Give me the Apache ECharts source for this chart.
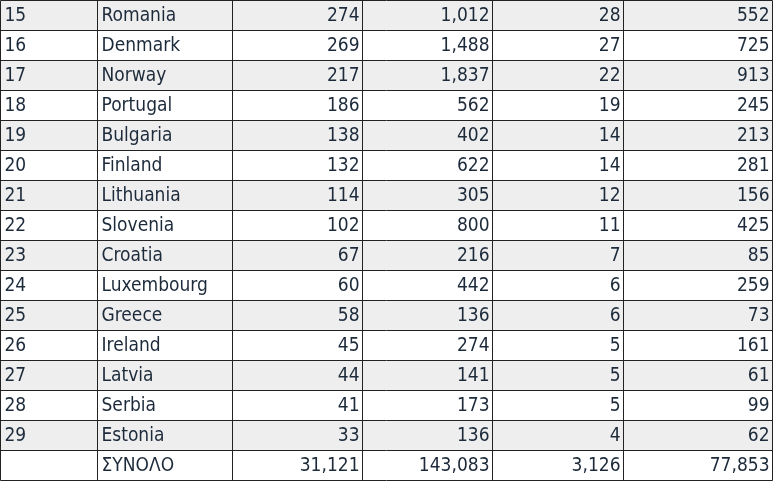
<!DOCTYPE html><html><head><meta charset="utf-8"><style>html,body{margin:0;padding:0;background:#fff}#c{width:774px;height:481px}</style>
<script src="https://cdn.jsdelivr.net/npm/echarts@6/dist/echarts.min.js"></script></head><body><div id="c"></div><script>
const ranks=['15','16','17','18','19','20','21','22','23','24','25','26','27','28','29',''];
const countries=['Romania','Denmark','Norway','Portugal','Bulgaria','Finland','Lithuania','Slovenia','Croatia','Luxembourg','Greece','Ireland','Latvia','Serbia','Estonia','ΣΥΝΟΛΟ'];
const col3=['274','269','217','186','138','132','114','102','67','60','58','45','44','41','33','31,121'];
const col4=['1,012','1,488','1,837','562','402','622','305','800','216','442','136','274','141','173','136','143,083'];
const col5=['28','27','22','19','14','14','12','11','7','6','6','5','5','5','4','3,126'];
const col6=['552','725','913','245','213','281','156','425','85','259','73','161','61','99','62','77,853'];
const cols=[ranks,countries,col3,col4,col5,col6];
const edges=[0.5,97.5,232.5,362.5,492.5,623.5,772.5];
const align=['left','left','right','right','right','right'];
const y0=0.5,rh=30,n=ranks.length;
const g=[];
for(let r=0;r<n;r++){
  const y=y0+r*rh;
  if(r%2===0&&r<n-1)g.push({type:'rect',shape:{x:edges[0],y:y,width:edges[6]-edges[0],height:rh},style:{fill:'#eeeeee'}});
  for(let c=0;c<6;c++){
    const x=align[c]==='left'?edges[c]+4:edges[c+1]-3;
    g.push({type:'text',x:x,y:y+rh/2+1,style:{text:cols[c][r],fill:'#1c2a3a',font:'19px "DejaVu Sans Condensed","Roboto",sans-serif',align:align[c],verticalAlign:'middle'}});
  }
}
for(let r=0;r<=n;r++)g.push({type:'line',shape:{x1:edges[0],y1:y0+r*rh,x2:edges[6],y2:y0+r*rh},style:{stroke:'#222',lineWidth:1}});
for(const e of edges)g.push({type:'line',shape:{x1:e,y1:y0,x2:e,y2:y0+n*rh},style:{stroke:'#222',lineWidth:1}});
echarts.init(document.getElementById('c'),null,{renderer:'canvas'}).setOption({animation:false,graphic:g});
</script></body></html>
